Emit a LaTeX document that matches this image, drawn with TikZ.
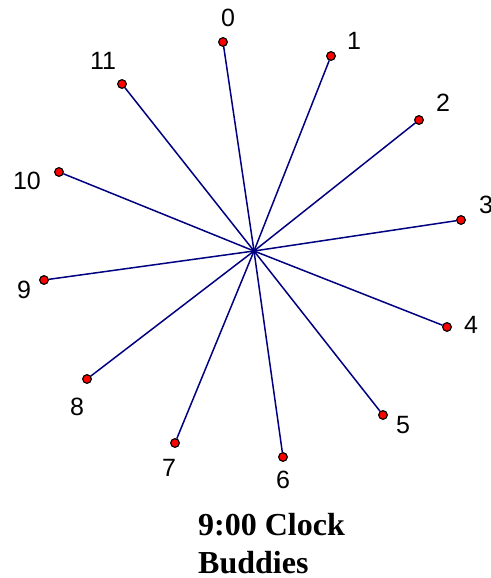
\documentclass[tikz,border=0pt]{standalone}
\usepackage{fontspec}
\setmainfont{Liberation Serif}
\newfontfamily\labelfont{Liberation Sans}
\definecolor{spoke}{RGB}{0,0,128}

\begin{document}
\begin{tikzpicture}[
    x=1pt,y=-1pt,
    every node/.style={font=\labelfont\fontsize{25}{30}\selectfont},
    dot/.style={circle,draw=black,fill=red,line width=1pt,minimum size=8.5pt,inner sep=0pt},
    num/.style={inner sep=0pt},
    title/.style={inner sep=0pt,anchor=base west,font=\bfseries\fontsize{32}{38}\selectfont}
]
\useasboundingbox (0,0) rectangle (490,578);

% Hub of the clock
\coordinate (hub) at (254,251);

% Hour positions
\node[dot] (p0)  at (223,42)  {};
\node[dot] (p1)  at (331,56)  {};
\node[dot] (p2)  at (419,120) {};
\node[dot] (p3)  at (461,220) {};
\node[dot] (p4)  at (447,327) {};
\node[dot] (p5)  at (383,415) {};
\node[dot] (p6)  at (283,457) {};
\node[dot] (p7)  at (175,443) {};
\node[dot] (p8)  at (87,379)  {};
\node[dot] (p9)  at (44,280)  {};
\node[dot] (p10) at (59,172)  {};
\node[dot] (p11) at (122,84)  {};

% Spokes from the hub
\foreach \i in {0,...,11}
  \draw[spoke,line width=1.5pt] (hub) -- (p\i);

% Redraw dots on top of the spokes
\foreach \i in {0,...,11}
  \node[dot] at (p\i) {};

% Hour numbers
\node[num] (l0)  at (228,18)  {0};
\node[num] (l1)  at (354,41)  {1};
\node[num] (l2)  at (443,103) {2};
\node[num] (l3)  at (486,205) {3};
\node[num] (l4)  at (471,325) {4};
\node[num] (l5)  at (403,425) {5};
\node[num] (l6)  at (283,480) {6};
\node[num] (l7)  at (169,468) {7};
\node[num] (l8)  at (77,407)  {8};
\node[num] (l9)  at (24,290)  {9};
\node[num] (l10) at (27,181)  {10};
\node[num] (l11) at (103,61)  {11};

% Caption
\node[title] (cap1) at (198,535) {9:00 Clock};
\node[title] (cap2) at (198,573) {Buddies};

\end{tikzpicture}
\end{document}
